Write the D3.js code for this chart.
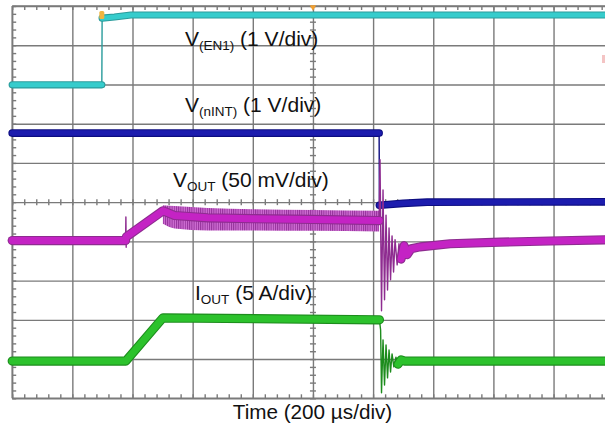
<!DOCTYPE html>
<html><head><meta charset="utf-8">
<script src="https://cdn.jsdelivr.net/npm/d3@7"></script>
<style>html,body{margin:0;padding:0;background:#fff}svg{display:block}</style>
</head><body>
<svg id="c" width="605" height="425"></svg>
<script>
// ---- Data (time in µs, level in screen divisions from bottom) ----
const timeTicks = d3.range(0, 2001, 200);      // 200 µs/div
const divTicks = d3.range(0, 11, 1);           // 10 vertical divisions
const minorTime = d3.range(0, 2001, 40);
const minorDiv = d3.range(0, 10.001, 0.2);

const en1 = [[0,7.99],[298,7.99],[299,9.69],[340,9.72],[395,9.77],[2000,9.77]];
const nint = [[0,6.76],[1220,6.76],[1221,4.92],[1300,4.97],[1380,5.0],[2000,5.01]];
const vout = [[0,4.02],[377,4.02],[378,4.62],[379,3.85],[380,4.12],[501,4.78],
  [540,4.66],[650,4.60],[800,4.58],[1000,4.56],[1220,4.53],
  [1223,6.08],[1228,2.23],[1233,5.31],[1238,2.51],[1243,4.67],[1248,2.76],[1253,4.34],
  [1258,3.02],[1263,4.14],[1268,3.22],[1273,4.04],[1280,3.40],[1286,3.94],[1293,3.55],
  [1303,3.89],[1313,3.66],[1326,3.81],[1356,3.86],[1456,3.94],[1622,3.98],[1788,4.01],
  [1971,4.04],[2000,4.04]];
const voutBand = [[501,4.92,4.45],[540,4.90,4.33],[650,4.85,4.28],[800,4.82,4.28],[1000,4.80,4.27],[1220,4.78,4.25]];
const iout = [[0,0.95],[378,0.95],[501,2.05],[1221,2.0],
  [1225,1.74],[1228,0.14],[1233,1.49],[1238,0.34],[1243,1.36],[1248,0.52],[1253,1.23],
  [1258,0.67],[1263,1.13],[1269,0.80],[1276,1.05],[1283,0.87],[1293,0.98],[1306,0.95],[2000,0.95]];

const channelLabels = [
  {main:"V", sub:"(EN1)", rest:" (1 V/div)"},
  {main:"V", sub:"(nINT)", rest:" (1 V/div)"},
  {main:"V", sub:"OUT", rest:" (50 mV/div)"},
  {main:"I", sub:"OUT", rest:" (5 A/div)"}
];
const axisTitle = "Time (200 µs/div)";

// ---- Layout ----
const L = 12.2, R = 613.7, T = 6, B = 398.3;
const svg = d3.select("#c");
const x = d3.scaleLinear().domain([0, 2000]).range([L, R]);
const y = d3.scaleLinear().domain([0, 10]).range([B, T]);
const gridColor = "#7a7a7a";

// grid via axes
svg.append("g").attr("transform", `translate(0,${B})`)
  .call(d3.axisBottom(x).tickValues(timeTicks).tickSize(-(B - T)).tickFormat(""))
  .call(g => g.select(".domain").remove());
svg.append("g").attr("transform", `translate(${L},0)`)
  .call(d3.axisLeft(y).tickValues(divTicks).tickSize(-(R - L)).tickFormat(""))
  .call(g => g.select(".domain").remove());
// minor ticks on center lines and borders
svg.append("g").attr("transform", `translate(0,${y(5) - 3})`)
  .call(d3.axisBottom(x).tickValues(minorTime).tickSize(6).tickFormat(""));
svg.append("g").attr("transform", `translate(${x(1000) - 3},0)`)
  .call(d3.axisRight(y).tickValues(minorDiv).tickSize(6).tickFormat(""));
svg.append("g").attr("transform", `translate(${L},0)`)
  .call(d3.axisRight(y).tickValues(minorDiv).tickSize(4).tickFormat(""));
svg.append("g").attr("transform", `translate(0,${T})`)
  .call(d3.axisBottom(x).tickValues(minorTime).tickSize(4).tickFormat(""));
svg.append("g").attr("transform", `translate(0,${B})`)
  .call(d3.axisTop(x).tickValues(minorTime).tickSize(4).tickFormat(""));
svg.selectAll(".tick line").attr("stroke", gridColor).attr("stroke-width", 1.4);
svg.selectAll(".domain").attr("stroke", "none");
svg.append("line").attr("x1", L).attr("x2", R).attr("y1", T).attr("y2", T).attr("stroke", gridColor).attr("stroke-width", 1.6);
svg.append("line").attr("x1", L).attr("x2", R).attr("y1", B).attr("y2", B).attr("stroke", gridColor).attr("stroke-width", 1.6);
svg.append("line").attr("x1", L).attr("x2", L).attr("y1", T).attr("y2", B).attr("stroke", gridColor).attr("stroke-width", 1.6);

// hatch pattern for noisy band
const defs = svg.append("defs");
const pat = defs.append("pattern").attr("id", "hatch").attr("patternUnits", "userSpaceOnUse")
  .attr("width", 2.2).attr("height", 10);
pat.append("rect").attr("width", 2.2).attr("height", 10).attr("fill", "#d070d4");
pat.append("rect").attr("width", 1).attr("height", 10).attr("fill", "#93309a");

const line = d3.line().x(d => x(d[0])).y(d => y(d[1]));

function trace(data, color, edge, wide) {
  // split into runs of wide (steady) and thin (fast edge) segments
  const runs = [];
  d3.pairs(data).forEach(([a, b]) => {
    const w = Math.abs(x(b[0]) - x(a[0])) > 2.5;
    const last = runs[runs.length - 1];
    if (last && last.wide === w) last.pts.push(b);
    else runs.push({wide: w, pts: [a, b]});
  });
  const g = svg.append("g").attr("fill", "none").attr("stroke-linejoin", "round").attr("stroke-linecap", "round");
  runs.filter(r => !r.wide).forEach(r =>
    g.append("path").attr("d", line(r.pts)).attr("stroke", edge).attr("stroke-width", 1.4));
  runs.filter(r => r.wide).forEach(r =>
    g.append("path").attr("d", line(r.pts)).attr("stroke", edge).attr("stroke-width", wide + 1.2));
  runs.filter(r => r.wide).forEach(r =>
    g.append("path").attr("d", line(r.pts)).attr("stroke", color).attr("stroke-width", wide - 1));
}

trace(en1, "#36cccc", "#2a9c9c", 6);
trace(nint, "#1c1cae", "#0c0c80", 6.5);
// noisy band of VOUT
svg.append("path").datum(voutBand)
  .attr("d", d3.area().x(d => x(d[0])).y0(d => y(d[2])).y1(d => y(d[1])).curve(d3.curveMonotoneX))
  .attr("fill", "url(#hatch)");
trace(vout, "#c423c4", "#8e2c90", 8);
trace(iout, "#2cc22c", "#1d8c1d", 8);

// markers
svg.append("rect").attr("x", x(298) - 2.5).attr("y", y(9.77) - 4).attr("width", 5).attr("height", 8)
  .attr("rx", 1.5).attr("fill", "#f2b540");
svg.append("path").attr("d", d3.symbol(d3.symbolTriangle, 18)()).attr("fill", "#f2a030")
  .attr("transform", `translate(${x(1000)},${T + 1}) rotate(180)`);
svg.append("rect").attr("x", 602).attr("y", 55).attr("width", 3).attr("height", 8).attr("fill", "#f4c4c4");

// labels
const labelPos = [[185, 45.5], [185, 111.7], [173, 187.3], [195, 300]];
channelLabels.forEach((c, i) => {
  const t = svg.append("text").attr("x", labelPos[i][0]).attr("y", labelPos[i][1])
    .attr("font-family", "Liberation Sans, Arial, sans-serif").attr("font-size", 21).attr("fill", "#111");
  t.append("tspan").text(c.main);
  t.append("tspan").attr("font-size", 13.5).attr("dy", 4).text(c.sub);
  t.append("tspan").attr("dy", -4).text(c.rest).attr("style", "white-space:pre");
});
svg.append("text").attr("x", 312.5).attr("y", 419).attr("text-anchor", "middle")
  .attr("font-family", "Liberation Sans, Arial, sans-serif").attr("font-size", 20.7).attr("fill", "#111")
  .text(axisTitle);
</script>
</body></html>
